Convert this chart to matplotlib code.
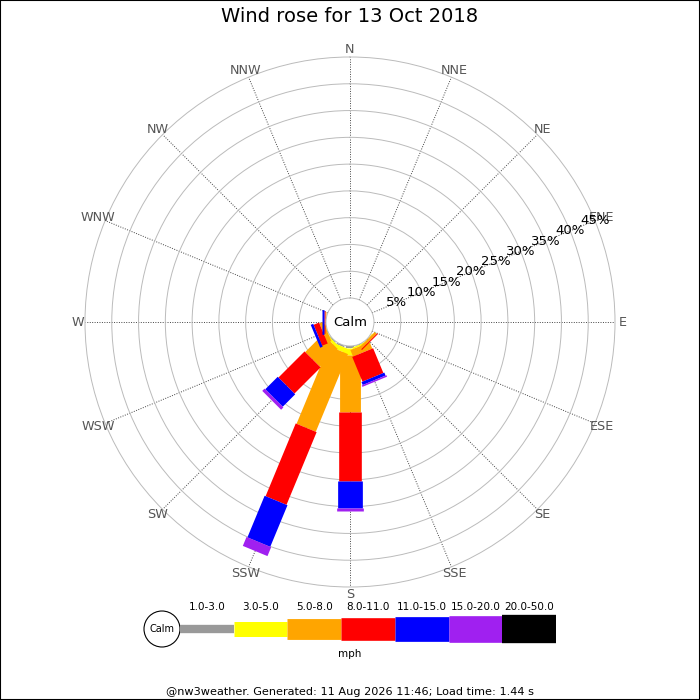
import numpy as np
import matplotlib
matplotlib.use('Agg')
import matplotlib.pyplot as plt
from matplotlib.patches import Rectangle, Circle

directions = ['N', 'NNE', 'NE', 'ENE', 'E', 'ESE', 'SE', 'SSE',
              'S', 'SSW', 'SW', 'WSW', 'W', 'WNW', 'NW', 'NNW']
bands = ['1.0-3.0', '3.0-5.0', '5.0-8.0', '8.0-11.0',
         '11.0-15.0', '15.0-20.0', '20.0-50.0']
band_colours = ['#999999', '#ffff00', '#ffa500', '#ff0000',
                '#0000ff', '#a020f0', '#000000']
band_lw = [6, 10.8, 15, 16.3, 17.8, 19.2, 20.4]

# % of the day per direction, one list per speed band (mph)
f_1_3 =   [0, 0, 0, 0, 0, 0, 0,   0.1, 0.3,  0.3,  0.2, 0,   0,    0, 0, 0]
f_3_5 =   [0, 0, 0, 0, 0, 0, 0.1, 0.3, 1.3,  0.9,  0.5, 0.1, 0,    0, 0, 0]
f_5_8 =   [0, 0, 0, 0, 0, 0, 0.5, 1.3, 10.7, 15.7, 4.7, 0.8, 0.2,  0, 0, 0]
f_8_11 =  [0, 0, 0, 0, 0, 0, 0.2, 5.0, 13.0, 14.7, 6.9, 1.1, 0.25, 0, 0, 0]
f_11_15 = [0, 0, 0, 0, 0, 0, 0,   0.6, 5.0,  8.4,  3.3, 0.5, 0.3,  0, 0, 0]
f_15_20 = [0, 0, 0, 0, 0, 0, 0,   0.3, 0.6,  1.8,  0.6, 0,   0,    0, 0, 0]
f_20_50 = [0, 0, 0, 0, 0, 0, 0,   0,   0,    0,    0,   0,   0,    0, 0, 0]

freqs = np.array([f_1_3, f_3_5, f_5_8, f_8_11, f_11_15, f_15_20, f_20_50])
cum = np.vstack([np.zeros(16), np.cumsum(freqs, axis=0)])

rmax = 45
rorigin = -4.48
theta = np.radians(np.arange(16) * 22.5)

fig = plt.figure(figsize=(7, 7), dpi=100)

ax = fig.add_axes([85/700, 113/700, 530/700, 530/700], projection='polar')
ax.set_theta_zero_location('N')
ax.set_theta_direction(-1)
ax.set_rlim(0, rmax)
ax.set_rorigin(rorigin)

ax.set_thetagrids(np.arange(0, 360, 22.5), labels=[''] * 16)
ax.set_rgrids(np.arange(5, 45, 5), labels=[''] * 8)
ax.xaxis.grid(True, color='#444444', linestyle=(0, (1, 1.5)), linewidth=0.7)
ax.yaxis.grid(True, color='#bbbbbb', linestyle='-', linewidth=0.7)
for name, sp in ax.spines.items():
    if name in ('polar', 'inner'):
        sp.set_color('#bbbbbb')
        sp.set_linewidth(0.7)

for b in range(len(bands)):
    for d in range(16):
        if freqs[b, d] > 0:
            ax.plot([theta[d], theta[d]], [cum[b, d], cum[b + 1, d]],
                    color=band_colours[b], lw=band_lw[b],
                    solid_capstyle='butt')

for d, name in enumerate(directions):
    ax.text(theta[d], 46.4, name, color='#555555', fontsize=9.2,
            ha='center', va='center', clip_on=False)

for v in range(5, 50, 5):
    ax.text(np.radians(67.5), v, f'{v}%', fontsize=9.5,
            ha='center', va='center', clip_on=False)

ax.text(0.5, 0.5, 'Calm', transform=ax.transAxes, fontsize=9.5,
        ha='center', va='center')

# legend strip below the rose
lax = fig.add_axes([0, 0, 1, 1])
lax.set_xlim(0, 700)
lax.set_ylim(700, 0)
lax.axis('off')
lax.add_patch(Circle((162, 629), 18, facecolor='white', edgecolor='black', lw=0.8))
lax.text(162, 629, 'Calm', fontsize=7, ha='center', va='center')
seg = 53.7
for b in range(len(bands)):
    x0 = 180 + seg * b
    lax.plot([x0, x0 + seg], [629, 629], color=band_colours[b],
             lw=band_lw[b], solid_capstyle='butt')
    lax.text(x0 + seg / 2, 607, bands[b], fontsize=7.5, ha='center', va='center')
lax.text(350, 654, 'mph', fontsize=7.5, ha='center', va='center')

fig.text(0.5, 1 - 17/700, 'Wind rose for 13 Oct 2018', fontsize=14,
         ha='center', va='center')
fig.text(0.5, 1 - 692/700,
         '@nw3weather. Generated: 11 Aug 2026 11:46; Load time: 1.44 s',
         fontsize=8.1, ha='center', va='center')
fig.add_artist(Rectangle((0, 0), 1, 1, transform=fig.transFigure,
                         fill=False, edgecolor='black', lw=1.5))

fig.savefig('out.png', dpi=100)
